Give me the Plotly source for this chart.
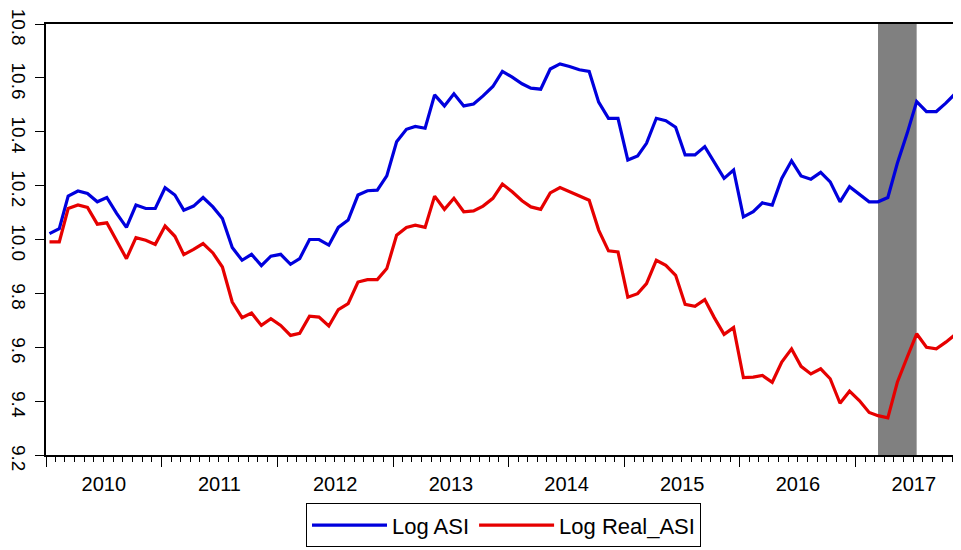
import pandas as pd
import plotly.graph_objects as go

# ---- data (monthly observations, Jan 2010 - Dec 2017) ----
months = pd.date_range("2010-01-01", periods=96, freq="MS")

log_asi = [
    10.022, 10.040, 10.161, 10.180, 10.171, 10.140, 10.156, 10.097, 10.045, 10.128, 10.115, 10.115,
    10.192, 10.165, 10.109, 10.124, 10.156, 10.121, 10.078, 9.970, 9.923, 9.945, 9.903, 9.938,
    9.945, 9.908, 9.929, 10.000, 10.000, 9.979, 10.045, 10.072, 10.165, 10.181, 10.183, 10.236,
    10.363, 10.409, 10.420, 10.413, 10.537, 10.496, 10.541, 10.496, 10.503, 10.533, 10.568, 10.624,
    10.603, 10.578, 10.562, 10.558, 10.633, 10.652, 10.642, 10.630, 10.624, 10.510, 10.450, 10.450,
    10.295, 10.310, 10.357, 10.450, 10.441, 10.417, 10.314, 10.314, 10.345, 10.285, 10.227, 10.258,
    10.084, 10.103, 10.136, 10.128, 10.227, 10.292, 10.236, 10.224, 10.249, 10.214, 10.140, 10.196,
    10.169, 10.140, 10.140, 10.156, 10.283, 10.394, 10.512, 10.475, 10.475, 10.506, 10.543, 10.549,
]

log_real_asi = [
    9.991, 9.991, 10.115, 10.128, 10.119, 10.057, 10.062, 9.995, 9.929, 10.007, 9.997, 9.982,
    10.050, 10.012, 9.944, 9.963, 9.985, 9.950, 9.898, 9.768, 9.710, 9.727, 9.681, 9.706,
    9.681, 9.644, 9.652, 9.715, 9.712, 9.679, 9.740, 9.762, 9.842, 9.851, 9.851, 9.892,
    10.016, 10.045, 10.053, 10.045, 10.161, 10.112, 10.153, 10.103, 10.106, 10.124, 10.153, 10.206,
    10.177, 10.144, 10.121, 10.112, 10.173, 10.193, 10.177, 10.161, 10.146, 10.035, 9.958, 9.954,
    9.786, 9.799, 9.836, 9.923, 9.904, 9.867, 9.759, 9.752, 9.777, 9.710, 9.648, 9.673,
    9.487, 9.489, 9.495, 9.470, 9.545, 9.594, 9.529, 9.501, 9.520, 9.483, 9.392, 9.437,
    9.402, 9.358, 9.346, 9.338, 9.470, 9.563, 9.650, 9.600, 9.594, 9.619, 9.648, 9.648,
]

series_names = ["Log ASI", "Log Real_ASI"]
shade_start, shade_end = "2017-03-01", "2017-07-01"
x_start, x_end = "2010-01-01", "2017-11-29"
y_min, y_max, y_step = 9.2, 10.8, 0.2

# ---- styling ----
obs_offset = pd.Timedelta(days=11)
dates = months + obs_offset
blue, red = "#0000dd", "#e60000"
font_family = "Liberation Sans, Arial, sans-serif"

fig = go.Figure()
fig.add_trace(go.Scatter(x=dates, y=log_asi, mode="lines", name=series_names[0],
                         line=dict(color=blue, width=3.2)))
fig.add_trace(go.Scatter(x=dates, y=log_real_asi, mode="lines", name=series_names[1],
                         line=dict(color=red, width=3.2)))

fig.add_vrect(x0=pd.Timestamp(shade_start) + obs_offset, x1=pd.Timestamp(shade_end) + obs_offset,
              fillcolor="#808080", opacity=1, line_width=0, layer="below")

# page body has an 8px default margin: the figure is sized/placed to compensate
fig.update_layout(
    width=953, height=542,
    margin=dict(l=38, r=0, t=16, b=95, autoexpand=False),
    paper_bgcolor="white", plot_bgcolor="white",
    font=dict(family=font_family, color="black", size=20),
    showlegend=True,
    legend=dict(orientation="h", x=0.5, xanchor="center", y=-0.214, yanchor="bottom",
                bordercolor="black", borderwidth=1, font=dict(size=22),
                itemwidth=75, tracegroupgap=0),
)

fig.update_xaxes(
    type="date", range=[x_start, x_end],
    tick0="2010-01-01", dtick="M12", ticklabelmode="period", tickformat="%Y",
    ticks="outside", ticklen=10, tickcolor="black", tickwidth=1.2,
    minor=dict(dtick="M1", ticks="outside", ticklen=5, tickcolor="black", tickwidth=1),
    showline=True, linecolor="black", linewidth=1.5, mirror=True,
    showgrid=False, zeroline=False,
    tickfont=dict(size=20),
)
fig.update_yaxes(
    range=[y_min, y_max], tick0=y_min, dtick=y_step, tickformat=".1f",
    tickangle=90, ticks="outside", ticklen=9, tickcolor="black", tickwidth=1.2,
    ticklabeloverflow="allow", ticklabelshift=6,
    showline=True, linecolor="black", linewidth=1.5,
    showgrid=False, zeroline=False,
    tickfont=dict(size=19),
)

fig.write_html("out.html")
